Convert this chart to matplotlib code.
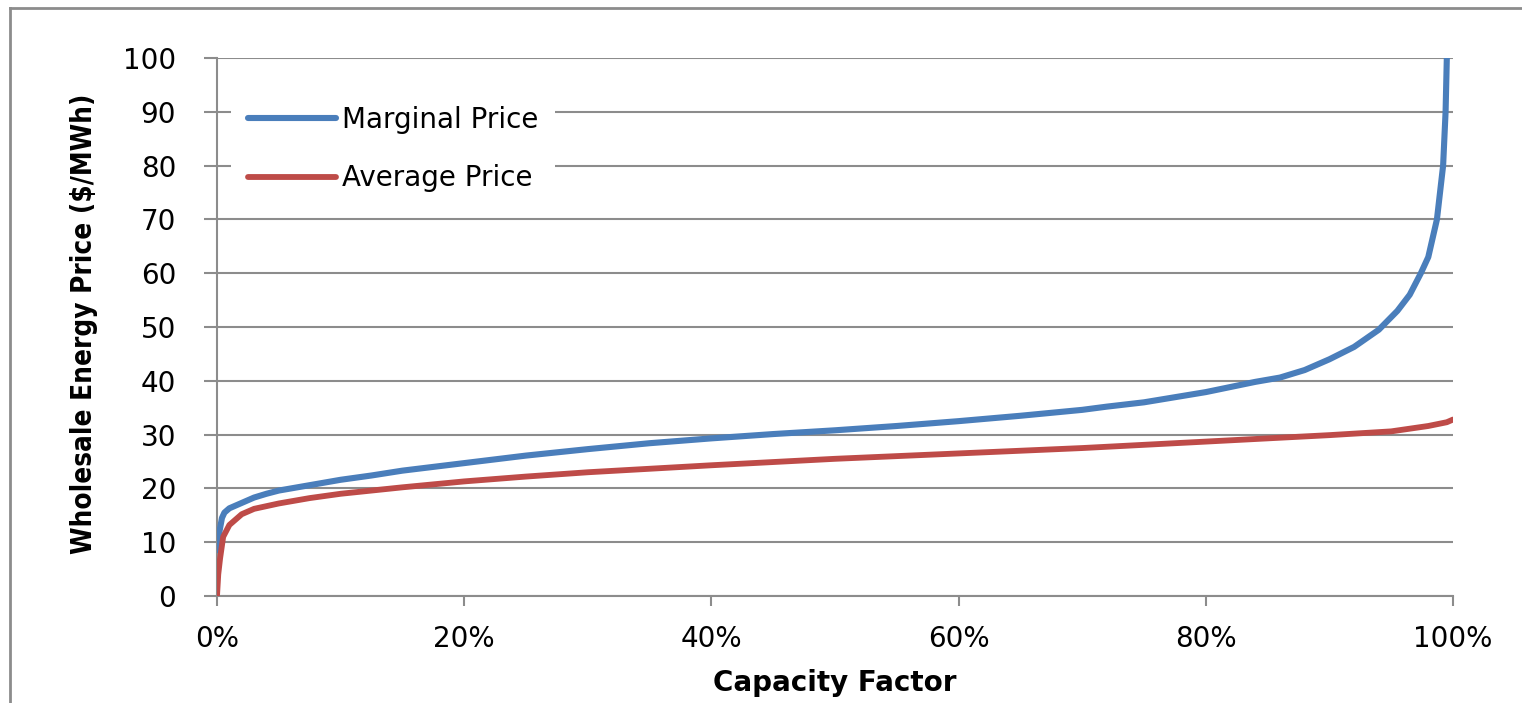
import matplotlib
matplotlib.use("Agg")
import matplotlib.pyplot as plt
from matplotlib.lines import Line2D
from matplotlib.ticker import FuncFormatter

BLUE = "#4a7ebb"; RED = "#be4b48"; GRID = "#8c8c8c"

# capacity factor (%) and marginal price ($/MWh)
marg_x = [0, 0.2, 0.4, 0.6, 1, 2, 3, 4, 5, 7.5, 10, 12.5, 15, 17.5, 20, 25, 30,
          35, 40, 45, 50, 55, 60, 65, 70, 72, 75, 80, 84, 86, 88, 90, 92, 94,
          95.5, 96.5, 97.4, 98, 98.7, 99.0, 99.2, 99.4, 99.5]
marg_y = [8.5, 12, 14.5, 15.5, 16.3, 17.3, 18.3, 19.0, 19.6, 20.6, 21.6, 22.4,
          23.3, 24.0, 24.7, 26.1, 27.3, 28.4, 29.3, 30.1, 30.8, 31.6, 32.5,
          33.5, 34.6, 35.2, 36.0, 37.9, 39.8, 40.6, 42.0, 44.0, 46.3, 49.5,
          53, 56, 60, 63, 70, 76, 80, 90, 100]

# capacity factor (%) and average price ($/MWh)
avg_x = [0, 0.1, 0.25, 0.5, 1, 2, 3, 5, 7.5, 10, 15, 20, 25, 30, 40, 50, 60,
         70, 80, 85, 90, 95, 98, 99.5, 100]
avg_y = [0, 4, 7, 11, 13.2, 15.2, 16.2, 17.2, 18.2, 19.0, 20.2, 21.3, 22.2,
         23.0, 24.3, 25.5, 26.5, 27.5, 28.7, 29.3, 29.9, 30.6, 31.6, 32.3, 32.8]

x_ticks = [0, 20, 40, 60, 80, 100]
y_ticks = list(range(0, 101, 10))

fig = plt.figure(figsize=(15.22, 7.03), dpi=100)
ax = fig.add_axes([217 / 1522, 107 / 703, 1236 / 1522, 538 / 703])

# outer chart frame
fig.add_artist(Line2D([10 / 1522, 10 / 1522], [0, 1 - 8 / 703], color=GRID, lw=2))
fig.add_artist(Line2D([10 / 1522, 1], [1 - 8 / 703, 1 - 8 / 703], color=GRID, lw=2))

ax.plot(marg_x, marg_y, color=BLUE, lw=4.4, label="Marginal Price",
        solid_capstyle="round", zorder=3)
ax.plot(avg_x, avg_y, color=RED, lw=4.2, label="Average Price",
        solid_capstyle="round", zorder=3)

ax.set_xlim(0, 100)
ax.set_ylim(0, 100)
ax.set_xticks(x_ticks)
ax.set_yticks(y_ticks)
ax.xaxis.set_major_formatter(FuncFormatter(lambda v, _: f"{int(v)}%"))
ax.grid(axis="y", color=GRID, lw=1.5)
ax.set_axisbelow(True)
for s in ("top", "right"):
    ax.spines[s].set_visible(False)
for s in ("left", "bottom"):
    ax.spines[s].set_color(GRID)
    ax.spines[s].set_linewidth(1.5)
ax.tick_params(axis="both", direction="out", width=1.5, color=GRID, labelsize=20)
ax.tick_params(axis="y", length=9.5, pad=20)
ax.tick_params(axis="x", length=7, pad=14)

ax.set_xlabel("Capacity Factor", fontsize=20, fontweight="bold")
ax.xaxis.set_label_coords(0.5, -0.136)
ax.set_ylabel("Wholesale Energy Price ($/MWh)", fontsize=20, fontweight="bold",
              family="DejaVu Sans", fontstretch="condensed")
ax.yaxis.set_label_coords(-0.096, 0.505)

leg = ax.legend(loc="upper left", bbox_to_anchor=(0.0, 0.968), fontsize=20,
                frameon=True, facecolor="white", edgecolor="none", framealpha=1,
                handlelength=3.2, handletextpad=0.2, labelspacing=1.1,
                borderpad=0.6, fancybox=False)

fig.savefig("out.png", dpi=100, facecolor="white")
